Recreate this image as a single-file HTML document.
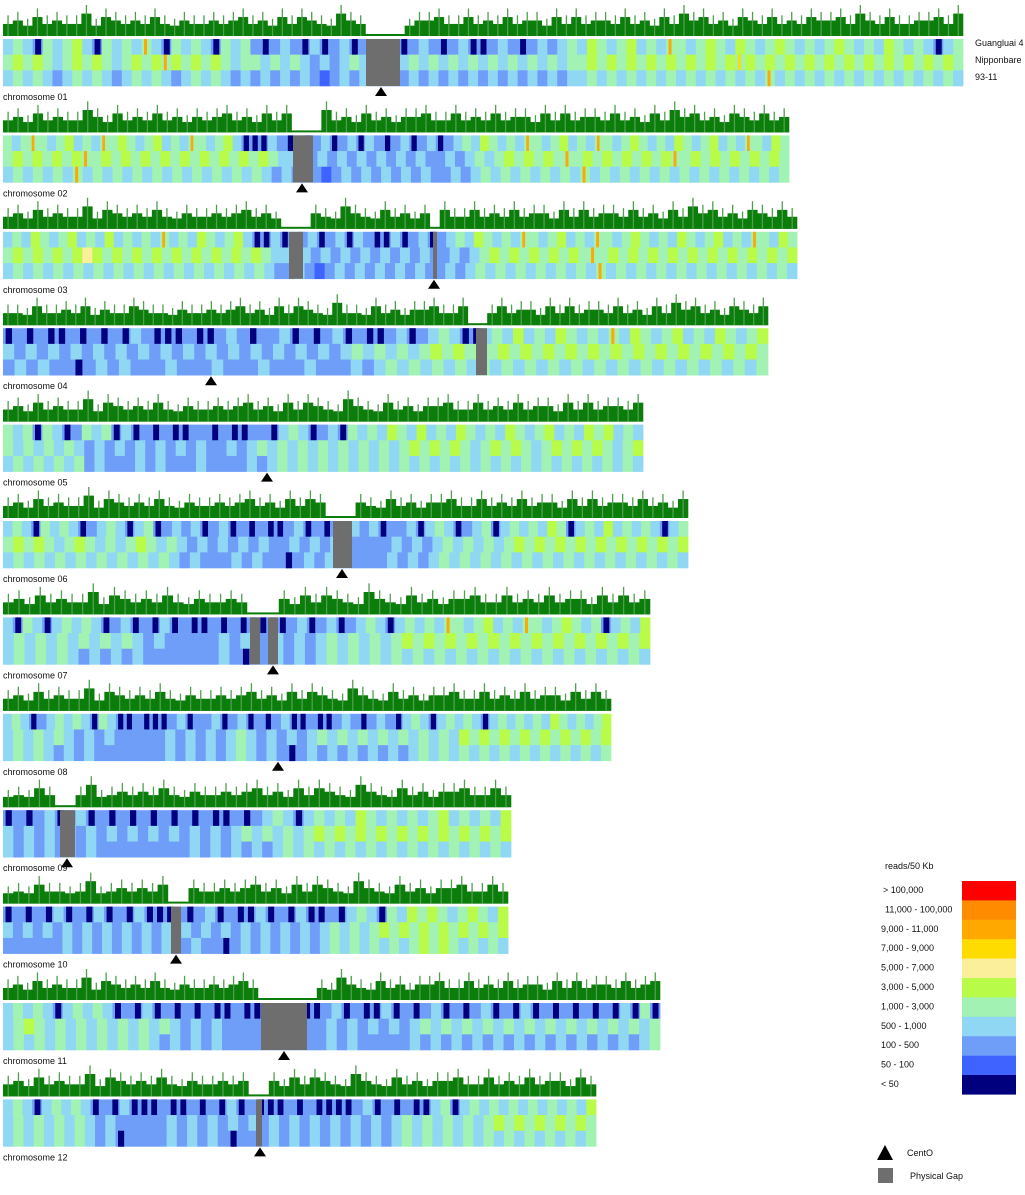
<!DOCTYPE html>
<html><head><meta charset="utf-8">
<style>
html,body{margin:0;padding:0;background:#fff;}
body{width:1025px;height:1190px;overflow:hidden;font-family:"Liberation Sans",sans-serif;}
svg text{font-family:"Liberation Sans",sans-serif;font-size:9px;fill:#111;}
</style></head>
<body>
<svg id="chart" width="1025" height="1190" viewBox="0 0 1025 1190" xmlns="http://www.w3.org/2000/svg">
<g id="plots"></g>
<g id="legend">
<text x="885" y="869">reads/50 Kb</text>
<g id="legendCells"></g>
<polygon points="877,1160 885,1145 893,1160" fill="#000"/>
<text x="907" y="1156">CentO</text>
<rect x="878" y="1168" width="15" height="15" fill="#6e6e6e"/>
<text x="910" y="1179">Physical Gap</text>
</g>
<text x="975" y="46">Guangluai 4</text>
<text x="975" y="63">Nipponbare</text>
<text x="975" y="80">93-11</text>
</svg>
<script>
// colour classes: 0 <50 ... 10 >100,000
const classColors = ["#00007f","#3f63ff","#6f9ef8","#8fd7f2","#a2f2b4","#b8fb48","#fbef9c","#ffdc00","#ffa800","#ff8c00","#ff0000"];
const legendLabels = ["> 100,000","11,000 - 100,000","9,000 - 11,000","7,000 - 9,000","5,000 - 7,000","3,000 - 5,000","1,000 - 3,000","500 - 1,000","100 - 500","50 - 100","< 50"];
const chromNames = ["chromosome 01","chromosome 02","chromosome 03","chromosome 04","chromosome 05","chromosome 06","chromosome 07","chromosome 08","chromosome 09","chromosome 10","chromosome 11","chromosome 12"];
const chromLengths = [960,786,794,765,640,685,647,608,508,505,657,593];
const centromeres = [378,299,431,208,264,339,270,275,64,173,281,257];
const gapStarts = [[363],[290],[286,430],[473],[],[330],[247,265],[],[57],[168],[258],[253]];
const gapEnds   = [[397],[310],[300,434],[484],[],[349],[257,275],[],[72],[178],[304],[259]];
// heatmap rows (Guangluai 4, Nipponbare, 93-11): one char per bin = colour class
const rowG = [
"3430434530434383043430434202320302302000023202300232023234354345343843454354345434345434354343034",
"43484345343845434534384345300032020230230320230230234354343843453438434543435434534384354",
"34354345343534343834354345300303230230320030230234354343843453438434543435434534384354",
"020200202020320002002320223020230200230234300343534354343835434534354345",
"43404302434030202002202002203430230434354353435434354345343545343",
"3430434302343034023230230202002302000323022303430234034343540343534343034",
"304303434302302030200202000002302302343034343843453438434543403435",
"3430234343043002000230223023020230020023202320343034343034343435434345",
"0202302302020202020200202343034343543434345343435",
"02020302030203000202302003020300203430435454345435",
"343430343430203020202002000002002302003020230202302030202020203040",
"3430343430203000200202030200020200002302020034034343434343435"];
const rowN = [
"4545434545434545854545434434343232343333343434343434343434454545454545454575454545454545454545454",
"45454545845454545454545454543332323232323232232343454545484545454545845454545454",
"45454545654545454545454545433232323232323232232345454545454845454545454545454545",
"32323232323232323232323232323234343434545454545454545454545454545454",
"434343432323232323232232343434343434343454545434545434545454345",
"4545434543434543432323232322323232222232323434343454545454545454545",
"343434343434323222223232232323434343454545454545454545454545",
"343434323232222232323234323232343434343434343545454545454545",
"3232323232323232323232343434345454545454545454545",
"323232323232323232323232323232323434345454545454545",
"345434343434343432323222222222232323232343434343434343434343434",
"3434343432322222323232323232323232323234343434345454545454"];
const rowB = [
"3434323434323434323434323232323212323222232323232323232323343434343434343434383434343434343434343",
"3434343834343434343434343432322212323232323223234343434343834343434343434343434",
"3434343434343434343434343432232123232323232232343434343434383434343434343434343",
"232322023232223222322232223222323434343434343434343434343434343434",
"343434342322232322232222323434343434343434343434343434343434343",
"343434343434343432322232322023232222232323434343434343434343434343",
"343434323232322222223202232323434343434343434343434343434343",
"343432323222222232323234323202323232323234343434343434343434",
"3232323232222222223232323234343434343434343434343",
"222222323232323232232202323232323434343434545434343",
"343434343434343232323222222222232322222323232323232323232323234",
"3434343432302222323232022232323232323234343434343434343434"];
// coverage histogram heights (0-9)
const histVals = [
"67586766958767686576676786758687659765867577866867686775868677686758697867587686768778697686677869",
"6758676697586768675767867586876596758675778668676867758686776867586978675876867",
"67586766958767686576676786758687659765867577866867686775868677686758697867587686",
"6658667685766876657667678675868765966586757786686768677586867768675869786758768",
"6758676695876768657667678675868765976586757786686768677586867768",
"67586766958767686576676786758687659765867577866867686775868677686758",
"6758676695876768657667678675868765976586757786686768677586867",
"675867669587676865766767867586876597658675778668676867758686",
"5658665695676768657667678675868765976586757786686",
"5658665695676768657667678675868765976586757786686",
"6758676695876768657667678675868765976586757786686768677586867768678",
"6758676695876768657667678675868765976586757786686768677586"];
const X0 = 3;
function heatTop(i){ return 39 + i * 96.4; }
function xPos(v){ return X0 + v; }
const NS = "http://www.w3.org/2000/svg";
function mk(tag, attrs, parent){ const e = document.createElementNS(NS, tag); for (const k in attrs) e.setAttribute(k, attrs[k]); parent.appendChild(e); return e; }
function inGap(i, a, b){ for (let k = 0; k < gapStarts[i].length; k++){ if (b > gapStarts[i][k] && a < gapEnds[i][k]) return true; } return false; }
const plots = document.getElementById('plots');
const rowsAll = [rowG, rowN, rowB];
const rowNames = ['guangluai4', 'nipponbare', '93-11'];
chromNames.forEach((name, i) => {
  const g = mk('g', {}, plots);
  
  
  const L = chromLengths[i], top = heatTop(i), H = 47, rh = H / 3;
  // histogram
  const hg = mk('g', {}, g);
  
  
  const base = top - 3;
  const bl = mk('rect', {x: xPos(0), y: base - 2, width: L, height: 2, fill: '#0a7d0a'}, hg);
  
  
  const hv = histVals[i], bw = L / hv.length;
  for (let k = 0; k < hv.length; k++){
    const a = k * bw, v = +hv[k];
    if (inGap(i, a, a + bw)) continue;
    const hb = Math.max(v - 2.5, 3) / 9 * 31;
    const r = mk('rect', {x: xPos(a), y: base - hb, width: bw + 0.3, height: hb, fill: '#0a7d0a'}, hg);
    
    
    const hs = v / 9 * 31;
    const sp = mk('rect', {x: xPos(a + bw * 0.45), y: base - hs, width: 1.3, height: hs, fill: '#4f9f4f'}, hg);
    
    
  }
  // heatmap
  const mg = mk('g', {}, g);
  
  
  rowsAll.forEach((rows, r) => {
    const s = rows[i], w = L / s.length;
    for (let k = 0; k < s.length; k++){
      const cls = +s[k];
      const extreme = (cls === 0 || cls >= 7);
      const bg = extreme ? (cls === 0 ? classColors[2] : classColors[4]) : classColors[cls];
      const c = mk('rect', {x: xPos(k * w), y: top + r * rh, width: w + 0.4, height: rh + 0.3, fill: bg}, mg);
      
      
      if (extreme){
        const st = mk('rect', {x: xPos(k * w + w * 0.25), y: top + r * rh, width: w * (cls === 0 ? 0.6 : 0.3), height: rh + 0.3, fill: classColors[cls]}, mg);
        
        
      }
    }
  });
  gapStarts[i].forEach((gs, k) => {
    const gr = mk('rect', {x: xPos(gs), y: top, width: gapEnds[i][k] - gs, height: H, fill: '#6e6e6e'}, mg);
    
    
  });
  const cx = xPos(centromeres[i]);
  const tri = mk('polygon', {points: (cx - 6) + ',' + (top + H + 10) + ' ' + cx + ',' + (top + H + 1) + ' ' + (cx + 6) + ',' + (top + H + 10), fill: '#000'}, g);
  
  
  const t = mk('text', {x: 3, y: top + H + 14}, g);
  t.textContent = name;
  
  
});
// legend cells
const lc = document.getElementById('legendCells');
const legendColors = classColors.slice().reverse();
legendLabels.forEach((lab, k) => {
  const y = 881 + k * 19.4;
  const r = mk('rect', {x: 962, y: y, width: 54, height: 19.6, fill: legendColors[k]}, lc);
  
  
  const t = mk('text', {x: k < 2 ? 883 + k * 2 : 881, y: y + 12}, lc);
  t.textContent = lab;
  
  
});
</script>
</body></html>
